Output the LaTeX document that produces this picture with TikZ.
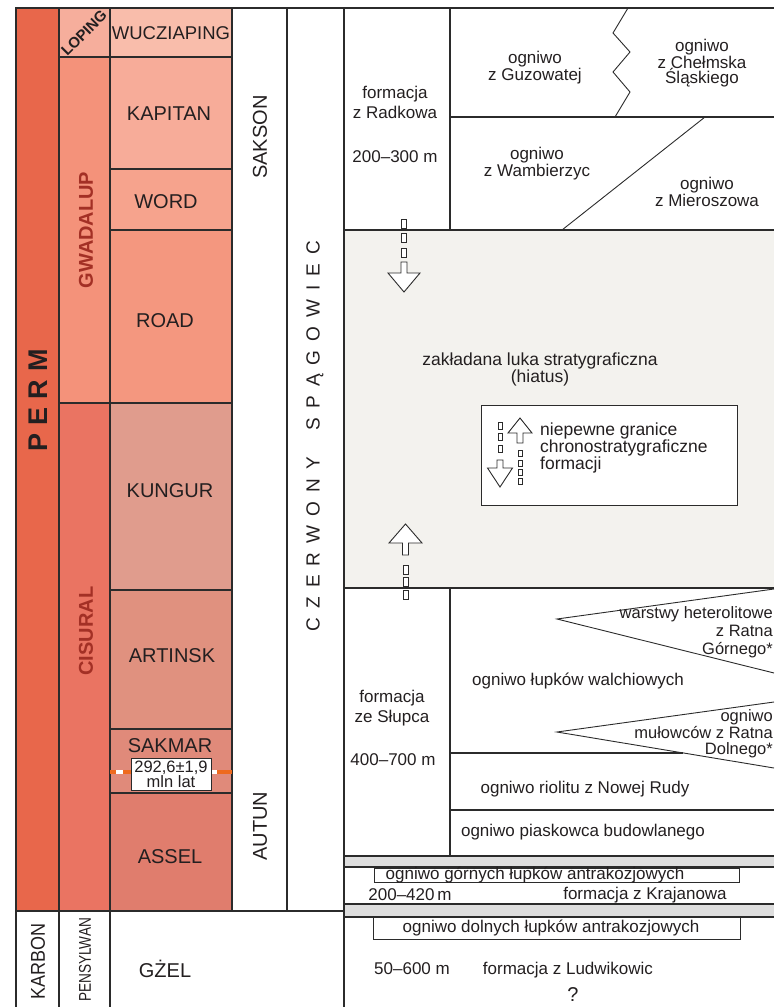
\documentclass[tikz,border=0pt]{standalone}
\usepackage{fontspec}
\setmainfont{Liberation Sans}
\definecolor{lc}{HTML}{2B2B2B}
\definecolor{tc}{HTML}{231F20}
\definecolor{epc}{HTML}{A33025}
\definecolor{permc}{HTML}{E8674B}
\definecolor{lopc}{HTML}{F6AE9C}
\definecolor{wucc}{HTML}{F9BDAB}
\definecolor{gwac}{HTML}{F4927A}
\definecolor{kapc}{HTML}{F7AC99}
\definecolor{wordc}{HTML}{F6A38D}
\definecolor{roadc}{HTML}{F4977F}
\definecolor{cisc}{HTML}{EA7462}
\definecolor{kunc}{HTML}{E09C8D}
\definecolor{artc}{HTML}{E0917F}
\definecolor{sakc}{HTML}{E08A7A}
\definecolor{assc}{HTML}{E07D6D}
\definecolor{hiac}{HTML}{F3F2EE}
\definecolor{bandc}{HTML}{DEDEDE}
\definecolor{orc}{HTML}{EE6A1E}
\newcommand{\lsgap}{\hspace{9pt}}
\tikzset{
  rule/.style={draw=lc, line width=1.3pt},
  fine/.style={draw=lc, line width=0.9pt},
  stage/.style={font=\fontsize{20}{20}\selectfont, text=tc, inner sep=0pt},
  body/.style={font=\fontsize{17}{15.5}\selectfont, text=tc, inner sep=0pt, align=center},
  formtxt/.style={font=\fontsize{17}{20}\selectfont, text=tc, inner sep=0pt, align=center},
  vlab/.style={font=\fontsize{20}{20}\selectfont, text=tc, inner sep=0pt, rotate=90},
  epoch/.style={font=\bfseries\fontsize{20}{20}\selectfont, text=epc, inner sep=0pt, rotate=90},
  tick/.style={draw=lc, fill=white, line width=0.9pt},
  dnarrow/.pic={\draw[tick] (-3,0) -- (3,0) -- (3,11) -- (16,11) -- (0,30) -- (-16,11) -- (-3,11) -- cycle;},
  uparrow/.pic={\draw[tick] (-3,0) -- (3,0) -- (3,-12) -- (16.5,-12) -- (0,-31) -- (-16.5,-12) -- (-3,-12) -- cycle;},
  smalldn/.pic={\draw[tick] (-3,0) -- (3,0) -- (3,8) -- (12.5,8) -- (0,27) -- (-12.5,8) -- (-3,8) -- cycle;},
  smallup/.pic={\draw[tick] (-3,0) -- (3,0) -- (3,-10) -- (12,-10) -- (0,-25) -- (-12,-10) -- (-3,-10) -- cycle;},
}
\begin{document}
\begin{tikzpicture}[x=1pt,y=-1pt]
\useasboundingbox (0,0) rectangle (774,1007);

% ---- stratigraphic colour fills ----
\fill[permc] (16,8) rectangle (59,911);
\fill[lopc] (59,8) rectangle (110,57);
\fill[wucc] (110,8) rectangle (232,57);
\fill[gwac] (59,57) rectangle (110,403);
\fill[kapc] (110,57) rectangle (232,169);
\fill[wordc] (110,169) rectangle (232,230);
\fill[roadc] (110,230) rectangle (232,403);
\fill[cisc] (59,403) rectangle (110,911);
\fill[kunc] (110,403) rectangle (232,590);
\fill[artc] (110,590) rectangle (232,729);
\fill[sakc] (110,729) rectangle (232,793);
\fill[assc] (110,793) rectangle (232,911);

% ---- lithostratigraphic fills ----
\fill[hiac] (344,230) rectangle (774,588);
\fill[bandc] (344,856) rectangle (774,867);
\fill[bandc] (344,904) rectangle (774,917);

% ---- grid lines, left part ----
\draw[rule] (16,1007) -- (16,8) -- (774,8);
\draw[rule] (59,8) -- (59,1007);
\draw[rule] (110,8) -- (110,1007);
\draw[rule] (232,8) -- (232,911);
\draw[rule] (287,8) -- (287,911);
\draw[rule] (344,8) -- (344,1007);
\draw[rule] (59,57) -- (232,57);
\draw[rule] (110,169) -- (232,169);
\draw[rule] (110,230) -- (232,230);
\draw[rule] (59,403) -- (232,403);
\draw[rule] (110,590) -- (232,590);
\draw[rule] (110,729) -- (232,729);
\draw[rule] (110,793) -- (232,793);
\draw[rule] (16,911) -- (344,911);

% ---- grid lines, formations ----
\draw[rule] (344,230) -- (774,230);
\draw[rule] (344,588) -- (774,588);
\draw[rule] (450,8) -- (450,230);
\draw[rule] (450,117) -- (774,117);
\draw[rule] (450,588) -- (450,856);
\draw[rule] (450,753) -- (683,753);
\draw[rule] (450,810) -- (774,810);
\draw[rule] (344,856) -- (774,856);
\draw[rule] (344,867) -- (774,867);
\draw[rule] (344,904) -- (774,904);
\draw[rule] (344,917) -- (774,917);

% zigzag facies boundary and diagonal boundary
\draw[fine] (628,8) -- (613,33) -- (630,52) -- (613,72) -- (630,92) -- (615,117);
\draw[fine] (705,117) -- (562,230);
% wedges
\draw[fine] (774,589) -- (557,619) -- (774,673);
\draw[fine] (774,702) -- (557,732) -- (774,768);

% ---- radiometric age marker ----
\draw[orc, line width=4.5pt] (110,772) -- (131,772);
\draw[orc, line width=4.5pt] (211,772) -- (232,772);
\draw[white, line width=4.5pt] (116,772) -- (123,772);
\draw[white, line width=4.5pt] (211,772) -- (217,772);
\node[draw=lc, line width=0.8pt, fill=white, minimum width=80pt, minimum height=32pt, inner sep=0pt,
      font=\fontsize{16.5}{15}\selectfont, align=center, text=tc] (age) at (171,774) {292,6±1,9\\mln lat};

% ---- chronostratigraphic labels ----
\node[rotate=90, inner sep=0pt, text=tc, font=\bfseries\fontsize{27}{27}\selectfont] (perm) at (38,400) {P\hspace{8pt}E\hspace{8pt}R\hspace{8pt}M};
\node[rotate=45, inner sep=0pt, text=tc, font=\bfseries\fontsize{15}{15}\selectfont] (loping) at (84,33) {LOPING};
\node[epoch] (gwad) at (86,230) {GWADALUP};
\node[epoch] (cis) at (86,631) {CISURAL};
\node[stage, font=\fontsize{18.5}{18.5}\selectfont] (wuc) at (171,33) {WUCZIAPING};
\node[stage] (kap) at (169,114) {KAPITAN};
\node[stage] (word) at (166,202) {WORD};
\node[stage] (road) at (165,321) {ROAD};
\node[stage] (kung) at (170,491) {KUNGUR};
\node[stage] (art) at (172,656) {ARTINSK};
\node[stage] (sak) at (170,746) {SAKMAR};
\node[stage] (ass) at (170,857) {ASSEL};
\node[vlab] (sakson) at (260,137) {SAKSON};
\node[vlab] (autun) at (260,826) {AUTUN};
\node[rotate=90, inner sep=0pt, text=tc, font=\fontsize{19}{19}\selectfont] (czs) at (315,436)
  {C\lsgap Z\lsgap E\lsgap R\lsgap W\lsgap O\lsgap N\lsgap Y\lsgap\lsgap\lsgap S\lsgap P\lsgap Ą\lsgap G\lsgap O\lsgap W\lsgap I\lsgap E\lsgap C};
\node[vlab] (karbon) at (38,961) {\scalebox{0.9}[1]{KARBON}};
\node[rotate=90, inner sep=0pt, text=tc, font=\fontsize{17}{17}\selectfont] (pens) at (85,960) {\scalebox{0.8}[1]{PENSYLWAN}};
\node[stage] (gzel) at (165,969) {GŻEL};

% ---- formations and members ----
\node[formtxt] (radk) at (395,102) {formacja\\z Radkowa};
\node[body] (radkth) at (395,157) {200–300 m};
\node[body] (guz) at (535,68) {ogniwo\\z Guzowatej};
\node[body] (chel) at (702,63) {ogniwo\\z Chełmska\\Śląskiego};
\node[body] (wamb) at (537,164) {ogniwo\\z Wambierzyc};
\node[body] (mier) at (707,192) {ogniwo\\z Mieroszowa};
\node[body, font=\fontsize{17.5}{17}\selectfont] (hiat) at (540,369) {zakładana luka stratygraficzna\\(hiatus)};

% legend box
\node[draw=lc, line width=1pt, fill=white, minimum width=256pt, minimum height=100pt, inner sep=0pt] (legend) at (609,455) {};
\node[body, align=left, anchor=west, font=\fontsize{17.5}{15.5}\selectfont] (legtxt) at (540,448) {niepewne granice\\chronostratygraficzne\\formacji};
\foreach \ya in {422,433,445} \draw[tick] (498,\ya) rectangle (502,\ya+7);
\pic at (500,460) {smalldn};
\pic at (520,443) {smallup};
\foreach \ya in {450,460,469,478} \draw[tick] (518,\ya) rectangle (522,\ya+6);

% uncertain boundary arrows
\foreach \ya in {219,233,248} \draw[tick] (401.5,\ya) rectangle (406.5,\ya+9);
\pic at (404,262) {dnarrow};
\foreach \ya in {565,577,590} \draw[tick] (403,\ya) rectangle (408,\ya+9);
\pic at (405.5,555) {uparrow};

% Słupca formation
\node[formtxt] (slup) at (392,708) {formacja\\ze Słupca};
\node[body] (slupth) at (393,760) {400–700 m};
\node[body, align=right, anchor=east, font=\fontsize{16.5}{18}\selectfont] (hetero) at (773,632) {warstwy heterolitowe\\z Ratna\\Górnego*};
\node[body] (walch) at (578,681) {ogniwo łupków walchiowych};
\node[body, align=right, anchor=east, font=\fontsize{16.5}{16.5}\selectfont] (mul) at (773,734) {ogniwo\\mułowców z Ratna\\Dolnego*};
\node[body] (rio) at (585,789) {ogniwo riolitu z Nowej Rudy};
\node[body] (piask) at (583,832) {ogniwo piaskowca budowlanego};

% Krajanów formation
\draw[fine] (374,868) rectangle (739,882);
\node[body] (gorn) at (535,875) {ogniwo górnych łupków antrakozjowych};
\node[body] (krth) at (410,895) {200–420\,m};
\node[body] (kraj) at (645,895) {formacja z Krajanowa};

% Ludwikowice formation
\draw[fine] (373,917) rectangle (740,939);
\node[body] (doln) at (551,928) {ogniwo dolnych łupków antrakozjowych};
\node[body] (ludth) at (412,969) {50–600 m};
\node[body] (lud) at (568,970) {formacja z Ludwikowic};
\node[body, font=\fontsize{20}{20}\selectfont] (q) at (573,995) {?};
\end{tikzpicture}
\end{document}
